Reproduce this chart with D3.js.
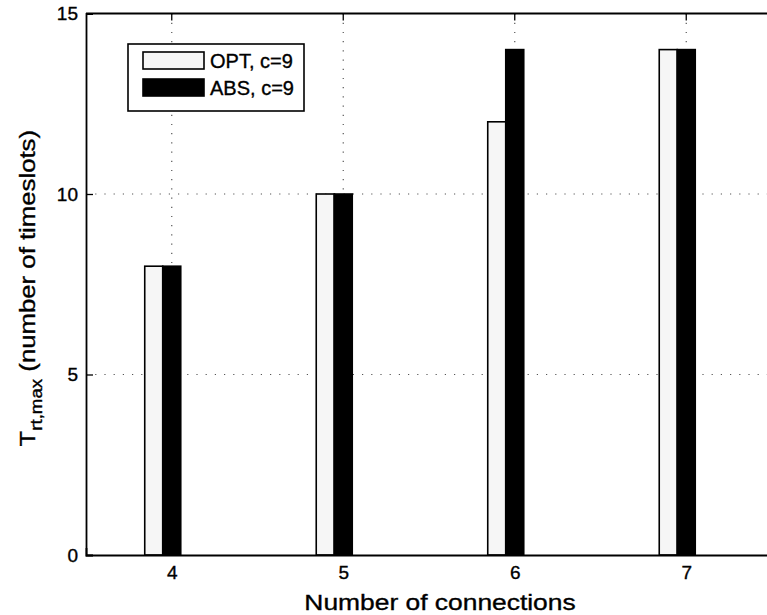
<!DOCTYPE html>
<html>
<head>
<meta charset="utf-8">
<script src="https://cdn.jsdelivr.net/npm/d3@7"></script>
<style>
  html, body { margin: 0; padding: 0; background: #fff; }
  svg { display: block; font-family: "Liberation Sans", Arial, sans-serif; }
  text { stroke: #000; stroke-width: 0.35px; }
</style>
</head>
<body>
<svg id="chart" width="767" height="615"></svg>
<script>
// Number of connections on the x axis
const categories = [4, 5, 6, 7];
// Maximum round-trip time for each scheme
const optValues = [8, 10, 12, 14];
const absValues = [8, 10, 14, 14];
const seriesNames = ["OPT, c=9", "ABS, c=9"];
const yTicks = [0, 5, 10, 15];

const svg = d3.select("#chart");
const plotLeft = 86, plotRight = 772, plotTop = 13.5, plotBottom = 555;

const x = d3.scaleLinear().domain([3.5, 7.5]).range([plotLeft, plotRight]);
const y = d3.scaleLinear().domain([0, 15]).range([plotBottom, plotTop]);

const barW = 0.105;
const series = [
  { name: seriesNames[0], values: optValues, offset: -barW, fill: "#f6f6f6" },
  { name: seriesNames[1], values: absValues, offset: 0, fill: "#000" }
];

// Dotted grid
const grid = svg.append("g").attr("stroke", "#555").attr("stroke-width", 1.2)
  .attr("stroke-dasharray", "1.2,8");
grid.selectAll("line.v").data(categories).join("line").attr("class", "v")
  .attr("x1", d => x(d)).attr("x2", d => x(d))
  .attr("y1", plotTop).attr("y2", plotBottom);
grid.selectAll("line.h").data(yTicks.filter(t => t > 0 && t < 15)).join("line").attr("class", "h")
  .attr("x1", plotLeft).attr("x2", plotRight)
  .attr("y1", d => y(d)).attr("y2", d => y(d));

// Bars
series.forEach(s => {
  svg.append("g").selectAll("rect").data(categories).join("rect")
    .attr("x", (d) => x(d + s.offset - barW / 2))
    .attr("width", x(barW) - x(0))
    .attr("y", (d, i) => y(s.values[i]))
    .attr("height", (d, i) => y(0) - y(s.values[i]))
    .attr("fill", s.fill)
    .attr("stroke", "#000")
    .attr("stroke-width", 1.6);
});

// Axes
const xAxis = d3.axisBottom(x).tickValues(categories).tickSize(-7).tickPadding(11).tickFormat(d3.format("d"));
const gx = svg.append("g").attr("transform", `translate(0,${plotBottom})`).call(xAxis);
const yAxis = d3.axisLeft(y).tickValues(yTicks).tickSize(-7).tickPadding(8);
const gy = svg.append("g").attr("transform", `translate(${plotLeft},0)`).call(yAxis);
[gx, gy].forEach(g => {
  g.select(".domain").attr("stroke", "#000").attr("stroke-width", 1.8);
  g.selectAll(".tick line").attr("stroke", "#000").attr("stroke-width", 1.3);
  g.selectAll(".tick text").attr("fill", "#000").attr("font-size", 19)
    .attr("font-family", "Liberation Sans, Arial, sans-serif");
});
// Top frame line with inward ticks
svg.append("line").attr("x1", plotLeft).attr("x2", plotRight).attr("y1", plotTop).attr("y2", plotTop)
  .attr("stroke", "#000").attr("stroke-width", 1.8);
svg.append("g").selectAll("line").data(categories).join("line")
  .attr("x1", d => x(d)).attr("x2", d => x(d)).attr("y1", plotTop).attr("y2", plotTop + 7)
  .attr("stroke", "#000").attr("stroke-width", 1.3);

// Axis titles
svg.append("text").attr("transform", "translate(440,610) scale(1.2,1)")
  .attr("text-anchor", "middle")
  .attr("font-size", 22).attr("fill", "#000").text("Number of connections");

const yl = svg.append("text")
  .attr("transform", `translate(35,${(plotTop + plotBottom) / 2 + 4}) rotate(-90) scale(1.17,1)`)
  .attr("text-anchor", "middle").attr("font-size", 22).attr("fill", "#000");
yl.append("tspan").text("T");
yl.append("tspan").attr("font-size", 16).attr("dy", 7).text("rt,max");
yl.append("tspan").attr("dy", -7).text(" (number of timeslots)");

// Legend
const lg = svg.append("g");
lg.append("rect").attr("x", 128).attr("y", 44).attr("width", 176).attr("height", 67)
  .attr("fill", "#fff").attr("stroke", "#000").attr("stroke-width", 1.6);
series.forEach((s, i) => {
  const yy = 52 + i * 27;
  lg.append("rect").attr("x", 143).attr("y", yy).attr("width", 61).attr("height", 17)
    .attr("fill", s.fill).attr("stroke", "#000").attr("stroke-width", 1.6);
  lg.append("text").attr("x", 210).attr("y", yy + 15.5).attr("font-size", 20)
    .attr("fill", "#000").text(s.name);
});
</script>
</body>
</html>
